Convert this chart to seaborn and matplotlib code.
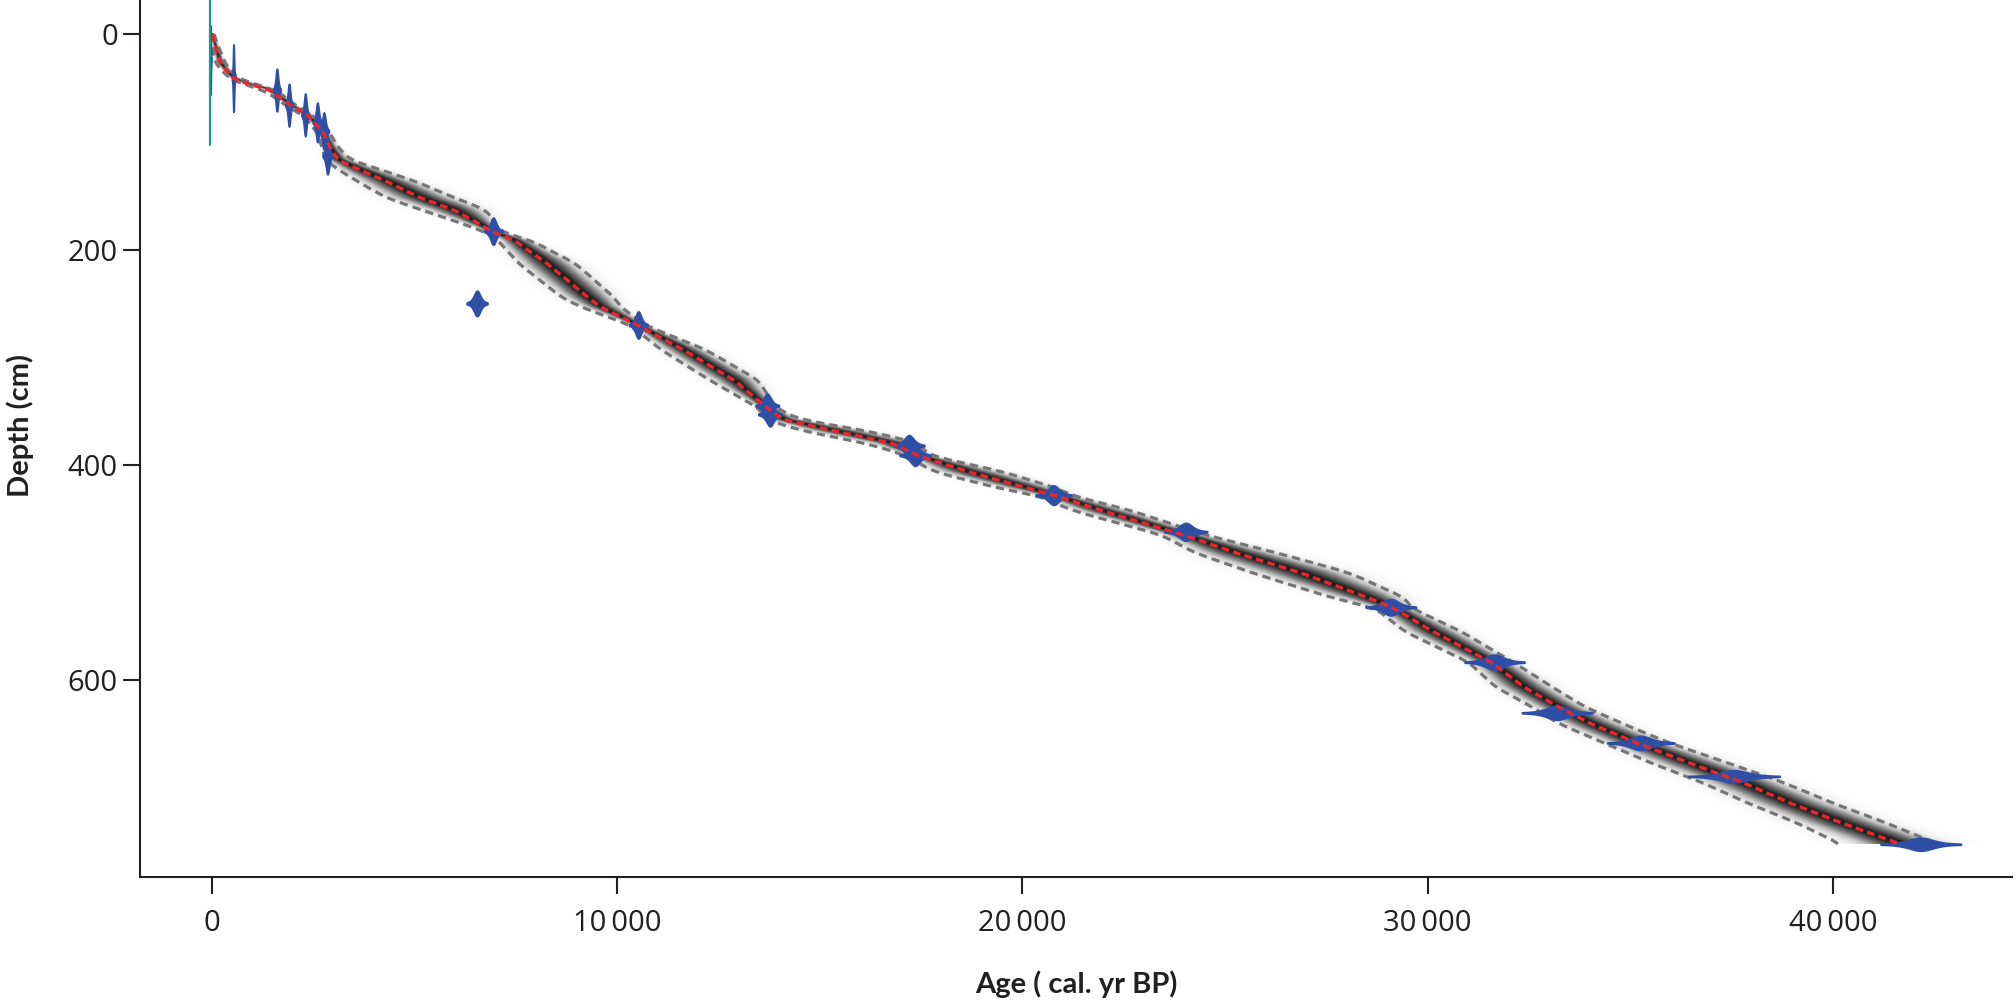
import numpy as np
import seaborn as sns
import matplotlib
matplotlib.use("Agg")
import matplotlib.pyplot as plt

# age-depth model (depth in cm, age in cal. yr BP)
model_depth = [0, 27, 41, 46, 52, 66, 75, 91, 105, 117, 125, 137, 152, 163, 173, 184,
               191, 213, 244, 253, 270, 293, 321, 347, 358, 368, 380, 391, 406, 423,
               428, 442, 465, 481, 500, 523, 533, 555, 583, 606, 624, 640, 657, 677,
               694, 714, 732, 752]
model_median = [0, 200, 520, 860, 1430, 1930, 2350, 2740, 2910, 3110, 3580, 4320, 5140,
                5950, 6450, 6940, 7440, 8270, 9260, 9580, 10490, 11630, 12870, 13700,
                14100, 15330, 16810, 17400, 18640, 20270, 20770, 21930, 23980, 25220,
                26860, 28520, 29160, 30150, 31560, 32370, 33200, 34020, 35090, 36490,
                37730, 38960, 40200, 41680]
model_min = [-40, 80, 420, 710, 1280, 1810, 2230, 2590, 2710, 2810, 3080, 3600, 4300,
             5150, 5950, 6760, 7040, 7570, 8610, 9080, 10310, 11080, 12270, 13480,
             13700, 14530, 16160, 17120, 17790, 19570, 20370, 21210, 23440, 24220,
             25660, 27620, 28710, 29450, 31010, 31670, 32550, 33230, 34290, 35540,
             36730, 37910, 39100, 40200]
model_max = [40, 320, 620, 1010, 1580, 2050, 2470, 2890, 3110, 3410, 4080, 5040, 5980,
             6750, 6950, 7120, 7840, 8970, 9910, 10080, 10670, 12180, 13470, 13920,
             14500, 16130, 17460, 17680, 19490, 20970, 21170, 22650, 24520, 26220,
             28060, 29420, 29610, 30850, 32110, 33070, 33850, 34810, 35890, 37440,
             38730, 40010, 41300, 42600]

# calibrated dates
date_age = [-40, 530, 1600, 1900, 2300, 2600, 2760, 2850, 6940, 6540, 10520, 13700,
            13770, 17200, 17350, 20770, 24030, 29090, 31650, 33200, 35260, 37560, 42170]
date_depth = [24, 41, 52, 66, 75, 82, 90, 113, 183, 250, 270, 345, 353, 382, 391, 428,
              462, 532, 583, 630, 658, 689, 752]
date_sd = [8, 12, 30, 30, 30, 35, 40, 40, 75, 85, 75, 95, 95, 125, 125, 145, 175, 205,
           245, 290, 275, 375, 330]

surface_age = -50
surface_depth = [-40, 103]

x_ticks = [0, 10000, 20000, 30000, 40000]
x_ticklabels = ["0", "10\u2009000", "20\u2009000", "30\u2009000", "40\u2009000"]
y_ticks = [0, 200, 400, 600]

ink = "#231f20"
blue = "#2f4fa6"

sns.set_style("ticks")
plt.rcParams["font.family"] = ["Open Sans", "DejaVu Sans"]

fig = plt.figure(figsize=(20.16, 10), dpi=100)
ax = fig.add_axes([140 / 2016, 123 / 1000, 1872 / 2016, 877 / 1000])


def smooth(v, n):
    k = np.ones(n) / n
    pad = n // 2
    return np.convolve(np.pad(v, pad, mode="edge"), k, mode="valid")


depth_fine = np.arange(0, 752.5, 0.5)
med = smooth(np.interp(depth_fine, model_depth, model_median), 7)
lo = smooth(np.interp(depth_fine, model_depth, model_min), 21)
hi = smooth(np.interp(depth_fine, model_depth, model_max), 21)

# grey-scale probability of the model
age_grid = np.arange(-1800, 44400, 15)
spread = np.maximum((hi - lo) / 3.2, 25)
dens = np.exp(-0.5 * ((age_grid[None, :] - med[:, None]) / spread[:, None]) ** 2)
ax.imshow(dens ** 1.3, cmap="Greys", vmin=0, vmax=1.12, aspect="auto",
          interpolation="bilinear",
          extent=[age_grid[0], age_grid[-1], depth_fine[-1], depth_fine[0]], zorder=1)

for bound in (lo, hi):
    sns.lineplot(x=bound, y=depth_fine, sort=False, estimator=None, ax=ax,
                 color="#767676", lw=2.3, linestyle=(0, (2.6, 1.6)), zorder=2)

# calibrated date distributions
for a, d, s in zip(date_age, date_depth, date_sd):
    xs = np.linspace(a - 3 * s, a + 3 * s, 300)
    p = (1 + ((xs - a) / s) ** 2 / 3) ** -2
    h = min(32, 108 / np.sqrt(s))
    ax.fill_between(xs, d - h * p, d + h * p, color=blue, lw=1.4, zorder=3)

ax.plot([surface_age, surface_age], surface_depth, color="#1a9b8c", lw=1.6, zorder=4)

sns.lineplot(x=med, y=depth_fine, sort=False, estimator=None, ax=ax,
             color="#e8262b", lw=2.4, linestyle=(0, (2.3, 1.3)), zorder=5)

ax.set_xlim(-1778, 44420)
ax.set_ylim(782.4, -31.6)
sns.despine(ax=ax)
for side in ("left", "bottom"):
    ax.spines[side].set_linewidth(1.5)
    ax.spines[side].set_color(ink)

ax.set_xticks(x_ticks)
ax.set_xticklabels(x_ticklabels)
ax.set_yticks(y_ticks)
ax.tick_params(direction="out", length=12, width=1.5, color=ink,
               labelsize=21, labelcolor=ink)
ax.tick_params(axis="x", pad=11)
ax.tick_params(axis="y", pad=4)

label_font = ["Lato", "DejaVu Sans"]
ax.set_xlabel("Age ( cal. yr BP)", fontsize=21, fontweight="bold", family=label_font,
              color=ink, va="center")
ax.set_ylabel("Depth (cm)", fontsize=21, fontweight="bold", family=label_font,
              color=ink, va="center")
ax.xaxis.set_label_coords(0.5, -0.122)
ax.yaxis.set_label_coords(-0.064, 0.515)

fig.savefig("out.png", dpi=100, facecolor="white")
